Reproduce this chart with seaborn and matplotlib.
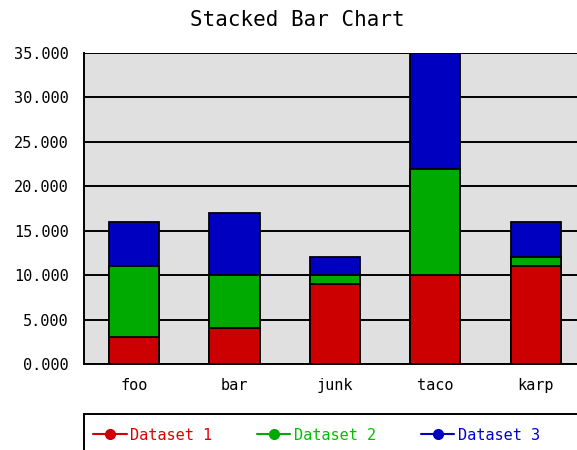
import matplotlib
matplotlib.use("Agg")
import matplotlib.pyplot as plt
import pandas as pd
import seaborn as sns
from matplotlib.lines import Line2D
from matplotlib.patches import Rectangle
from matplotlib.ticker import FuncFormatter

""" Stacked bar chart with three datasets """

categories = ["foo", "bar", "junk", "taco", "karp"]
dataset_1 = [3, 4, 9, 10, 11]
dataset_2 = [8, 6, 1, 12, 1]
dataset_3 = [5, 7, 2, 13, 4]
series_names = ["Dataset 1", "Dataset 2", "Dataset 3"]
bar_colors = ["#cc0000", "#00aa00", "#0000c0"]
text_colors = ["#e00000", "#00c000", "#0000d0"]
y_ticks = [0, 5, 10, 15, 20, 25, 30, 35]

W, H = 577, 450

df = pd.DataFrame(
    {"category": categories, "d1": dataset_1, "d2": dataset_2, "d3": dataset_3}
)
# cumulative tops, drawn from the tallest so the lower ones sit on top
df["top1"] = df["d1"]
df["top2"] = df["d1"] + df["d2"]
df["top3"] = df["d1"] + df["d2"] + df["d3"]

sns.set_style("white")
plt.rcParams["font.family"] = ["DejaVu Sans Mono", "DejaVu Sans"]

fig = plt.figure(figsize=(W / 100, H / 100), dpi=100)
ax = fig.add_axes([84 / W, 1 - 364 / H, 502 / W, (364 - 53) / H])
ax.set_facecolor("#e0e0e0")

for col, color in zip(["top3", "top2", "top1"], bar_colors[::-1]):
    sns.barplot(
        data=df,
        x="category",
        y=col,
        color=color,
        saturation=1,
        width=0.5,
        edgecolor="black",
        linewidth=1.3,
        ax=ax,
        zorder=3,
    )

ax.set_xlim(-0.5, 4.5)
ax.set_ylim(0, 35)
ax.set_yticks(y_ticks)
ax.yaxis.set_major_formatter(FuncFormatter(lambda v, _: "{:.3f}".format(v)))
ax.grid(axis="y", color="black", linewidth=1.4, zorder=0)
ax.set_axisbelow(True)
ax.set_xlabel("")
ax.set_ylabel("")
for side in ["top", "right"]:
    ax.spines[side].set_visible(False)
for side in ["left", "bottom"]:
    ax.spines[side].set_color("black")
    ax.spines[side].set_linewidth(1.4)
ax.tick_params(axis="both", direction="out", length=5, width=1.2,
               color="black", labelsize=11, labelcolor="black")
ax.tick_params(axis="y", pad=6)
ax.tick_params(axis="x", pad=5)

fig.text(297 / W, 1 - 20 / H, "Stacked Bar Chart", ha="center", va="center",
         fontsize=15, color="black")

# legend box runs off the bottom and right of the image
fig.add_artist(Rectangle((84 / W, -0.2), 1.0, 0.2 + 36 / H, transform=fig.transFigure,
                         facecolor="white", edgecolor="black", linewidth=1.4))
handles = [
    Line2D([], [], color=c, marker="o", markersize=7, linewidth=1.5)
    for c in bar_colors
]
leg = fig.legend(
    handles,
    series_names,
    loc="center left",
    bbox_to_anchor=(93 / W, 1 - 435 / H),
    ncol=3,
    frameon=False,
    fontsize=11,
    handlelength=2.2,
    handletextpad=0.25,
    columnspacing=2.9,
    borderpad=0,
    borderaxespad=0,
)
for text, c in zip(leg.get_texts(), text_colors):
    text.set_color(c)

fig.savefig("out.png", dpi=100)
